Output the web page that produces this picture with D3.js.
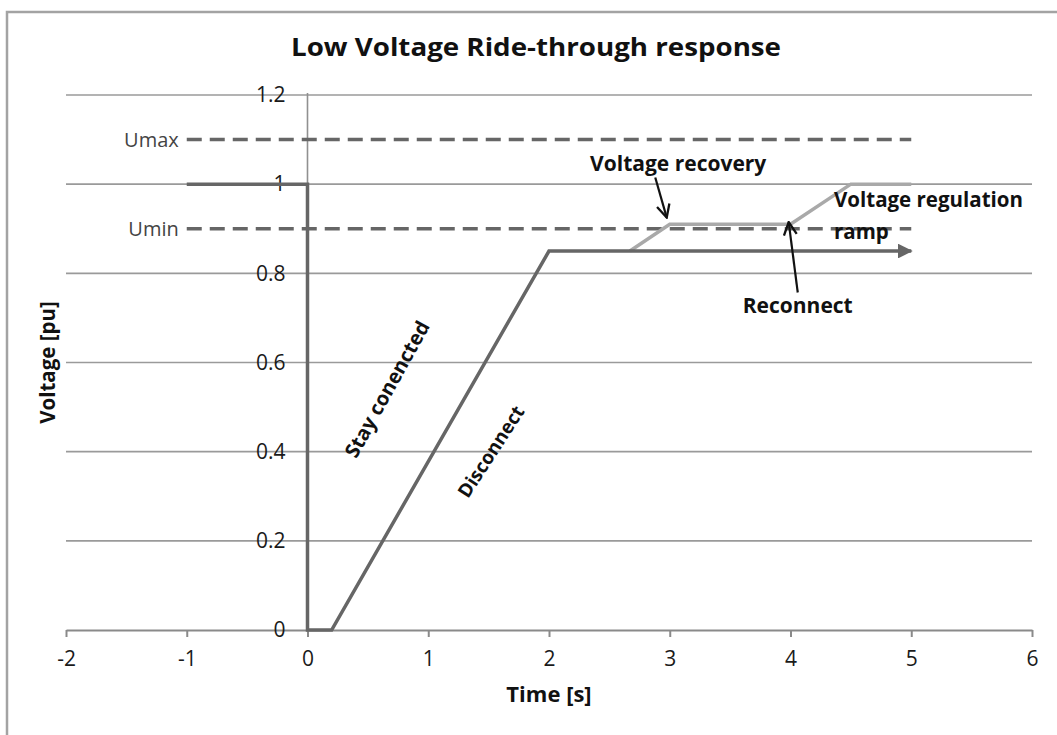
<!DOCTYPE html>
<html><head><meta charset="utf-8">
<script src="https://cdn.jsdelivr.net/npm/d3@7"></script>
<style>body{margin:0;background:#fff} text{font-family:"Open Sans",sans-serif}</style>
</head><body><svg id="c" width="1057" height="735"></svg>
<script>
const xTicks=[-2,-1,0,1,2,3,4,5,6];
const yTicks=[0,0.2,0.4,0.6,0.8,1,1.2];
const yTickLabels=["0","0.2","0.4","0.6","0.8","1","1.2"];
const stayTime=[-1,0,0,0.2,2,5];
const stayVolt=[1,1,0,0,0.85,0.85];
const recTime=[2.67,3,4,4.5,5];
const recVolt=[0.85,0.91,0.91,1,1];
const limitNames=["Umax","Umin"];
const limitVolt=[1.1,0.9];
const limitRange=[-1,5];
const title="Low Voltage Ride-through response";

const svg=d3.select("#c");
const x=d3.scaleLinear().domain([-2,6]).range([66,1032]);
const y=d3.scaleLinear().domain([0,1.2]).range([630,95]);

// frame
svg.append("rect").attr("x",0).attr("y",0).attr("width",1057).attr("height",735).attr("fill","#fff");
svg.append("path").attr("d","M7,735 V12 H1057").attr("fill","none").attr("stroke","#a3a3a3").attr("stroke-width",2.5);

const defs=svg.append("defs");
defs.append("marker").attr("id","tri").attr("viewBox","0 0 10 10").attr("refX",9).attr("refY",5)
  .attr("markerWidth",4.2).attr("markerHeight",4.2).attr("orient","auto").attr("markerUnits","strokeWidth")
  .append("path").attr("d","M0,0 L10,5 L0,10 Z").attr("fill","#666");
defs.append("marker").attr("id","chev").attr("viewBox","0 0 12 12").attr("refX",11).attr("refY",6)
  .attr("markerWidth",7).attr("markerHeight",7).attr("orient","auto").attr("markerUnits","strokeWidth")
  .append("path").attr("d","M1,1 L11,6 L1,11").attr("fill","none").attr("stroke","#111").attr("stroke-width",1.8);

// gridlines
svg.append("g").selectAll("line").data(yTicks.filter(d=>d>0)).join("line")
  .attr("x1",x(-2)).attr("x2",x(6)).attr("y1",d=>y(d)).attr("y2",d=>y(d))
  .attr("stroke","#9a9a9a").attr("stroke-width",1.6);

// y axis line
svg.append("line").attr("x1",x(0)).attr("x2",x(0)).attr("y1",y(1.2)-2).attr("y2",y(0))
  .attr("stroke","#909090").attr("stroke-width",1.6);

// x axis
const xa=svg.append("g").attr("transform",`translate(0,${y(0)})`)
  .call(d3.axisBottom(x).tickValues(xTicks).tickSize(7).tickPadding(14).tickFormat(d=>String(d)).tickSizeOuter(0));
xa.select(".domain").attr("stroke","#8a8a8a").attr("stroke-width",2);
xa.selectAll(".tick line").attr("stroke","#8a8a8a").attr("stroke-width",2);
xa.selectAll(".tick text").attr("font-size",21).attr("fill","#1a1a1a").attr("font-family","Open Sans");

// y labels
const ya=svg.append("g").attr("transform",`translate(${x(0)},0)`)
  .call(d3.axisLeft(y).tickValues(yTicks).tickSize(0).tickPadding(22).tickFormat((d,i)=>yTickLabels[i]));
ya.select(".domain").remove();
ya.selectAll(".tick text").attr("font-size",21).attr("fill","#1a1a1a").attr("font-family","DejaVu Sans");

// limit lines
limitVolt.forEach((v,i)=>{
  svg.append("line").attr("x1",x(limitRange[0])).attr("x2",x(limitRange[1])).attr("y1",y(v)).attr("y2",y(v))
    .attr("stroke","#666").attr("stroke-width",3.5).attr("stroke-dasharray","15,8");
  svg.append("text").attr("x",x(limitRange[0])-8).attr("y",y(v)).attr("dy","0.35em").attr("text-anchor","end")
    .attr("font-size",20).attr("font-family","DejaVu Sans").attr("fill","#444").text(limitNames[i]);
});

const line=d3.line().x(d=>x(d[0])).y(d=>y(d[1]));
// recovery (light)
svg.append("path").attr("d",line(recTime.map((t,i)=>[t,recVolt[i]])))
  .attr("fill","none").attr("stroke","#a9a9a9").attr("stroke-width",3.5);
// stay connected (dark)
svg.append("path").attr("d",line(stayTime.map((t,i)=>[t,stayVolt[i]])))
  .attr("fill","none").attr("stroke","#666").attr("stroke-width",3.5).attr("marker-end","url(#tri)");

// title
svg.append("text").attr("x",536).attr("y",56).attr("text-anchor","middle").attr("font-size",25)
  .attr("textLength",490).attr("lengthAdjust","spacingAndGlyphs")
  .attr("font-weight","bold").attr("fill","#111").text(title);

// axis titles
svg.append("text").attr("x",x(2)).attr("y",702).attr("text-anchor","middle").attr("font-size",22)
  .attr("font-weight","bold").attr("fill","#111").text("Time [s]");
svg.append("text").attr("transform",`translate(55,${y(0.6)}) rotate(-90)`).attr("text-anchor","middle").attr("font-size",20.5)
  .attr("font-weight","bold").attr("fill","#111").text("Voltage [pu]");

// annotations
function ann(t,tx,ty,opts={}){
  return svg.append("text").attr("x",x(tx)).attr("y",y(ty)).attr("text-anchor",opts.anchor||"middle")
    .attr("font-size",opts.size||21).attr("font-weight","bold").attr("fill","#111").text(t);
}
ann("Voltage recovery",3.07,1.03);
ann("Voltage regulation",4.36,0.948,{anchor:"start",size:20.5});
ann("ramp",4.36,0.878,{anchor:"start",size:20.5});
ann("Reconnect",4.06,0.71);
function arrow(x1,y1,x2,y2){
  svg.append("line").attr("x1",x(x1)).attr("y1",y(y1)).attr("x2",x(x2)).attr("y2",y(y2))
    .attr("stroke","#111").attr("stroke-width",2.2).attr("marker-end","url(#chev)");
}
arrow(2.88,1.015,2.975,0.925);
arrow(4.06,0.757,3.985,0.915);

// rotated labels
svg.append("text").attr("transform",`translate(${x(0.66)},${y(0.54)}) rotate(-61)`).attr("text-anchor","middle")
  .attr("dy","0.35em").attr("font-size",20).attr("font-weight","bold").attr("fill","#111").text("Stay conencted");
svg.append("text").attr("transform",`translate(${x(1.52)},${y(0.40)}) rotate(-57)`).attr("text-anchor","middle")
  .attr("dy","0.35em").attr("font-size",19).attr("font-weight","bold").attr("fill","#111").text("Disconnect");
</script></body></html>
